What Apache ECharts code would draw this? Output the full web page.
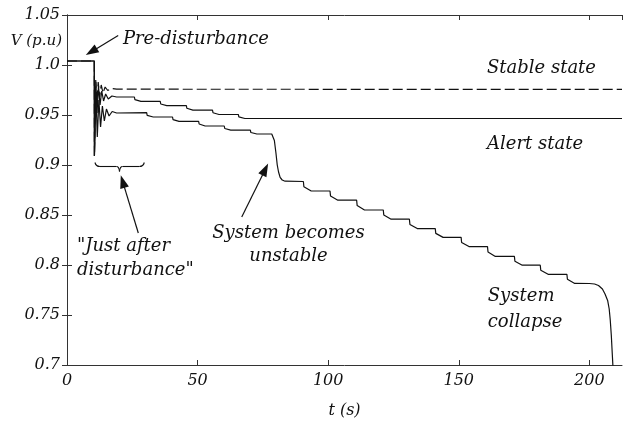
<!DOCTYPE html>
<html><head><meta charset="utf-8">
<script src="https://cdn.jsdelivr.net/npm/echarts@6/dist/echarts.min.js"></script>
<style>html,body{margin:0;padding:0;background:#fff}#c{width:623px;height:424px}</style>
</head><body><div id="c"></div>
<script>
// ---- data ----
const xTickValues = [0, 50, 100, 150, 200];
const yTickLabels = ['0.7', '0.75', '0.8', '0.85', '0.9', '0.95', '1.0', '1.05'];

// Stable state (dashed)
const stableT = [0, 10.45, 10.5, 11.0, 11.45, 11.95, 12.5, 13.1, 13.8, 14.6, 15.6, 17, 19, 212.5];
const stableV = [1.004, 1.004, 0.909, 0.985, 0.962, 0.983, 0.968, 0.980, 0.972, 0.978, 0.9745, 0.9765, 0.9758, 0.9756];

// Alert state (solid, settles after a few steps)
const alertT = [0, 10.45, 10.5, 11.05, 11.5, 12.05, 12.65, 13.3, 14.0, 14.8, 15.8, 17.2, 19,
  25.8, 26.0, 26.4, 28.3,
  35.7, 35.9, 36.3, 38.2,
  45.7, 45.9, 46.3, 48.2,
  55.7, 55.9, 56.3, 58.2,
  65.6, 65.8, 66.2, 68.1,
  212.5];
const alertV = [1.004, 1.004, 0.909, 0.983, 0.952, 0.979, 0.960, 0.974, 0.964, 0.971, 0.966, 0.969, 0.968,
  0.968, 0.9654, 0.9661, 0.9636,
  0.9636, 0.9610, 0.9617, 0.9593,
  0.9593, 0.9567, 0.9573, 0.9549,
  0.9549, 0.9523, 0.9529, 0.9505,
  0.9505, 0.9481, 0.9487, 0.9465,
  0.9465];

// Unstable -> collapse (solid)
const unstableT = [0, 10.45, 10.5, 11.1, 11.6, 12.2, 12.85, 13.55, 14.3, 15.1, 16.1, 17.3, 19,
  30.5, 30.7, 31.1, 33.0,
  40.4, 40.6, 41.0, 42.9,
  50.4, 50.6, 51.0, 52.9,
  60.2, 60.4, 60.8, 62.7,
  70.2, 70.4, 70.8, 72.7,
  78.4, 78.9, 79.4, 80.0, 80.5, 81.0, 81.6, 82.4, 83.5,
  90.5, 90.7, 91.1, 93.5,
  100.7, 100.9, 101.3, 103.7,
  110.9, 111.1, 111.5, 113.9,
  121.1, 121.3, 121.7, 124.1,
  131.1, 131.3, 131.7, 134.1,
  141.0, 141.2, 141.6, 144.0,
  150.9, 151.1, 151.5, 153.9,
  161.0, 161.2, 161.6, 164.0,
  171.3, 171.5, 171.9, 174.3,
  181.2, 181.4, 181.8, 184.2,
  191.4, 191.6, 192.0, 194.4,
  200.0, 202.0, 203.5, 205.0, 206.0, 207.0, 207.6, 208.0, 208.4, 208.8, 209.2];
const unstableV = [1.004, 1.004, 0.909, 0.970, 0.928, 0.965, 0.938, 0.959, 0.944, 0.956, 0.949, 0.9535, 0.952,
  0.9523, 0.9497, 0.9504, 0.9480,
  0.9480, 0.9454, 0.9461, 0.9437,
  0.9437, 0.9410, 0.9417, 0.9390,
  0.9390, 0.9365, 0.9371, 0.9348,
  0.9348, 0.9325, 0.9331, 0.9310,
  0.9310, 0.9290, 0.9245, 0.9120, 0.9000, 0.8930, 0.8876, 0.8850, 0.8838,
  0.8835, 0.8783, 0.8795, 0.8740,
  0.8740, 0.8689, 0.8701, 0.8648,
  0.8648, 0.8594, 0.8607, 0.8550,
  0.8550, 0.8499, 0.8511, 0.8458,
  0.8458, 0.8406, 0.8418, 0.8364,
  0.8364, 0.8316, 0.8327, 0.8276,
  0.8276, 0.8225, 0.8237, 0.8184,
  0.8184, 0.8130, 0.8143, 0.8086,
  0.8086, 0.8037, 0.8049, 0.7998,
  0.7998, 0.7948, 0.7960, 0.7907,
  0.7907, 0.7857, 0.7869, 0.7816,
  0.7815, 0.7810, 0.7795, 0.7760, 0.7710, 0.7646, 0.7560, 0.7450, 0.7300, 0.7100, 0.6900];

// ---- chart ----
const FONT = 'DejaVu Serif';
const INK = '#111';
const zip = (t, v) => t.map((x, i) => [x, v[i]]);
const chart = echarts.init(document.getElementById('c'), null, {renderer: 'canvas'});

const axisCommon = {
  axisLine: {show: true, lineStyle: {color: '#333', width: 1}},
  splitLine: {show: false},
};
const option = {
  animation: false,
  backgroundColor: '#fff',
  grid: {left: 67, right: 1, top: 15, bottom: 51},
  xAxis: [{
    type: 'value', min: 0, max: 212.5, interval: 50, position: 'bottom',
    ...axisCommon,
    axisTick: {show: true, inside: true, length: 5, lineStyle: {color: '#333'}},
    axisLabel: {
      show: true, margin: 8, color: INK, fontFamily: FONT, fontStyle: 'italic', fontSize: 16,
      showMaxLabel: false,
      formatter: v => (xTickValues.indexOf(v) >= 0 ? String(v) : '')
    },
    name: 't (s)', nameLocation: 'middle', nameGap: 38,
    nameTextStyle: {color: INK, fontFamily: FONT, fontStyle: 'italic', fontSize: 16}
  }, {
    type: 'value', min: 0, max: 212.5, interval: 50, position: 'top',
    ...axisCommon,
    axisTick: {show: true, inside: true, length: 5, lineStyle: {color: '#333'}},
    axisLabel: {show: false}
  }],
  yAxis: [{
    type: 'value', min: 0.7, max: 1.05, interval: 0.05, position: 'left',
    ...axisCommon,
    axisTick: {show: true, inside: true, length: 5, lineStyle: {color: '#333'}},
    axisLabel: {
      show: true, margin: 7, color: INK, fontFamily: FONT, fontStyle: 'italic', fontSize: 16,
      formatter: v => yTickLabels[Math.round((v - 0.7) / 0.05)] || ''
    }
  }, {
    type: 'value', min: 0.7, max: 1.05, interval: 0.05, position: 'right',
    ...axisCommon,
    axisTick: {show: true, inside: true, length: 5, lineStyle: {color: '#333'}},
    axisLabel: {show: false}
  }],
  series: [
    {name: 'Stable state', type: 'line', data: zip(stableT, stableV), symbol: 'none',
     lineStyle: {color: INK, width: 1.2, type: [10, 4]}, clip: true},
    {name: 'Alert state', type: 'line', data: zip(alertT, alertV), symbol: 'none',
     lineStyle: {color: INK, width: 1.2}, clip: true},
    {name: 'Collapse', type: 'line', data: zip(unstableT, unstableV), symbol: 'none',
     lineStyle: {color: INK, width: 1.2}, clip: true}
  ]
};
chart.setOption(option);

// ---- annotations (anchored in data coordinates) ----
const P = (t, v) => chart.convertToPixel({gridIndex: 0}, [t, v]);
const txtStyle = (text, align) => ({text, fill: INK, fontFamily: FONT, fontStyle: 'italic', fontSize: 18,
  textAlign: align || 'left', textVerticalAlign: 'middle'});
function label(t, v, text, align) {
  const p = P(t, v);
  return {type: 'text', x: p[0], y: p[1], style: txtStyle(text, align), z: 10};
}
function arrow(from, to) {
  const p0 = P(from[0], from[1]), p1 = P(to[0], to[1]);
  const dx = p1[0] - p0[0], dy = p1[1] - p0[1], L = Math.hypot(dx, dy);
  const ux = dx / L, uy = dy / L, hl = 13, hw = 4.5;
  const bx = p1[0] - ux * hl, by = p1[1] - uy * hl, nx = -uy, ny = ux;
  return [
    {type: 'line', shape: {x1: p0[0], y1: p0[1], x2: bx + ux * 2, y2: by + uy * 2}, style: {stroke: INK, lineWidth: 1.2}, z: 10},
    {type: 'polygon', shape: {points: [[p1[0], p1[1]], [bx + nx * hw, by + ny * hw], [bx - nx * hw, by - ny * hw]]},
     style: {fill: INK}, z: 10}
  ];
}
function curve(x1, y1, cx, cy, x2, y2) {
  return {type: 'bezierCurve', shape: {x1, y1, cpx1: cx, cpy1: cy, x2, y2},
          style: {stroke: INK, fill: null, lineWidth: 1.1}, z: 10};
}
function seg(x1, y1, x2, y2) {
  return {type: 'line', shape: {x1, y1, x2, y2}, style: {stroke: INK, lineWidth: 1.1}, z: 10};
}
// underbrace spanning the "just after disturbance" interval
const bc = P(20.1, 0.8985);
const bl = P(10.7, 0.8985)[0], br = P(29.6, 0.8985)[0];
const bx = bc[0], by = bc[1];
const brace = [
  curve(bl, by - 4, bl + 1, by, bl + 5, by),
  seg(bl + 5, by, bx - 3, by),
  curve(bx - 3, by, bx - 0.5, by, bx, by + 5),
  curve(bx, by + 5, bx + 0.5, by, bx + 3, by),
  seg(bx + 3, by, br - 5, by),
  curve(br - 5, by, br - 1, by, br, by - 4)
];
const vName = P(0, 1.0236);

const graphics = [
  label(21.4, 1.0256, 'Pre-disturbance'),
  ...arrow([19.6, 1.0295], [7.2, 1.0099]),
  label(160.8, 0.9962, 'Stable state'),
  label(160.8, 0.9210, 'Alert state'),
  ...brace,
  ...arrow([27.3, 0.8320], [20.6, 0.8897]),
  label(3.8, 0.8183, '"Just after'),
  label(3.8, 0.7948, 'disturbance"'),
  ...arrow([66.9, 0.8479], [77.0, 0.9014]),
  label(84.8, 0.8320, 'System becomes', 'center'),
  label(84.8, 0.8085, 'unstable', 'center'),
  label(161.1, 0.7684, 'System'),
  label(161.1, 0.7430, 'collapse'),
  {type: 'text', x: vName[0] - 5, y: vName[1],
   style: {text: 'V (p.u)', fill: INK, fontFamily: FONT, fontStyle: 'italic', fontSize: 15,
           textAlign: 'right', textVerticalAlign: 'middle'}, z: 10}
];
chart.setOption({graphic: graphics});
</script>
</body></html>
